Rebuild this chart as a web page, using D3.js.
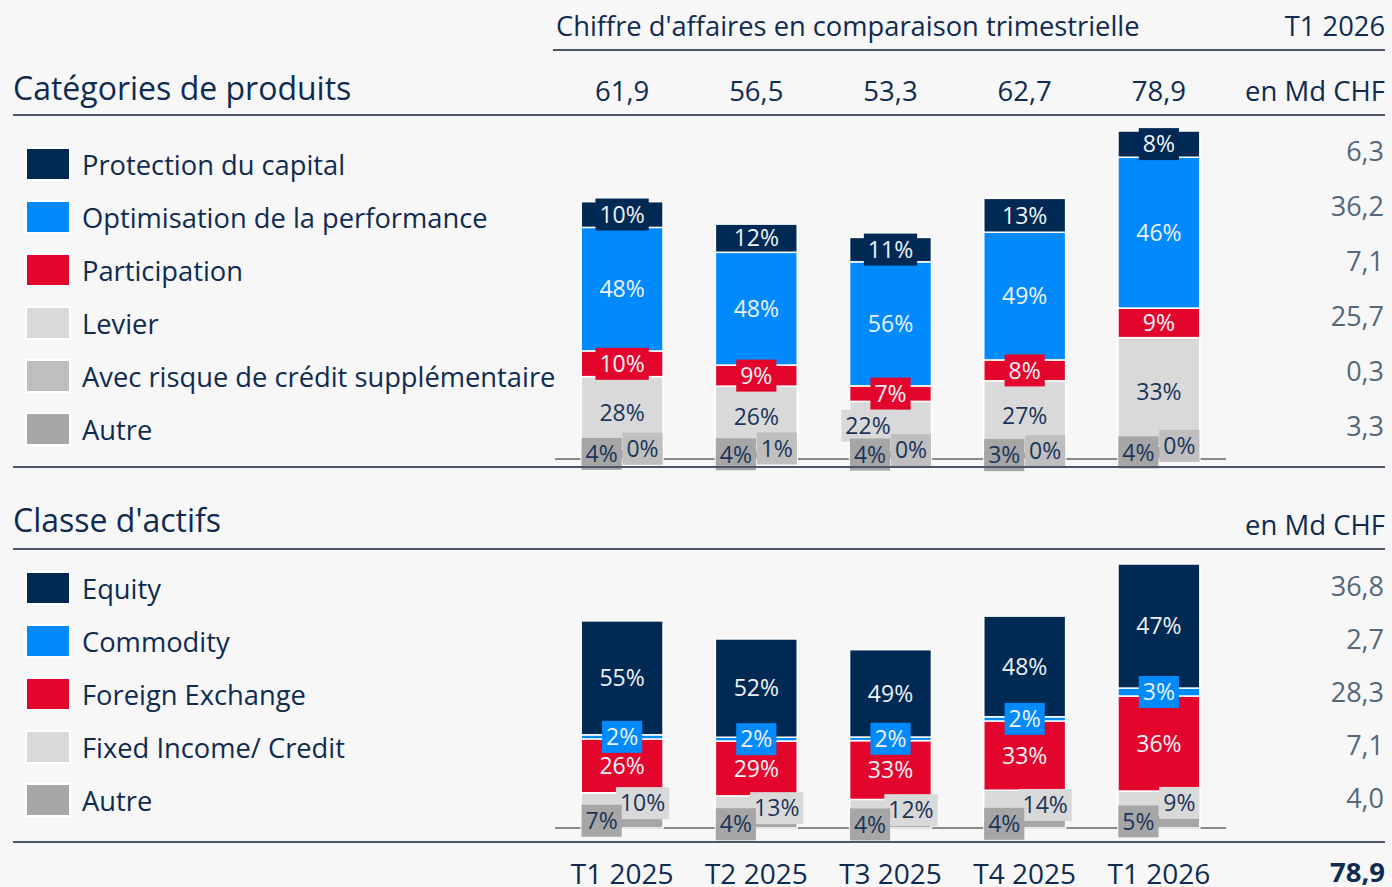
<!DOCTYPE html>
<html>
<head>
<meta charset="utf-8">
<script src="https://cdn.jsdelivr.net/npm/d3@7"></script>
<style>
  body { margin: 0; background: #f7f7f7; }
  svg { display: block; font-family: 'Open Sans', 'Noto Sans', sans-serif; }
</style>
</head>
<body>
<svg id="chart" width="1392" height="887"></svg>
<script>
// quarters and revenue totals (Md CHF)
const quarters = ['T1 2025', 'T2 2025', 'T3 2025', 'T4 2025', 'T1 2026'];
const totals = [61.9, 56.5, 53.3, 62.7, 78.9];

// product categories, shares in % per quarter
const productNames = ['Protection du capital', 'Optimisation de la performance', 'Participation', 'Levier', 'Avec risque de crédit supplémentaire', 'Autre'];
const protectionShare = [10, 12, 11, 13, 8];
const optimisationShare = [48, 48, 56, 49, 46];
const participationShare = [10, 9, 7, 8, 9];
const levierShare = [28, 26, 22, 27, 33];
const creditRiskShare = [0, 1, 0, 0, 0];
const productOtherShare = [4, 4, 4, 3, 4];
const productLatest = [6.3, 36.2, 7.1, 25.7, 0.3, 3.3];

// asset classes, shares in % per quarter
const assetNames = ['Equity', 'Commodity', 'Foreign Exchange', 'Fixed Income/ Credit', 'Autre'];
const equityShare = [55, 52, 49, 48, 47];
const commodityShare = [2, 2, 2, 2, 3];
const fxShare = [26, 29, 33, 33, 36];
const fixedIncomeShare = [10, 13, 12, 14, 9];
const assetOtherShare = [7, 4, 4, 4, 5];
const assetLatest = [36.8, 2.7, 28.3, 7.1, 4.0];

const W = 1392, H = 887;
const textNavy = '#0f2b50';
const ruleColor = '#4b5768';
const lightText = '#eef2f7';
const colNavy = '#002a54', colBlue = '#008afe', colRed = '#e3052c';
const colLight = '#d9d9d9', colMid = '#bfbfbf', colDark = '#a6a6a6';

const fr = d3.formatLocale({ decimal: ',', thousands: ' ', grouping: [3], currency: ['', ''] });
const fmt1 = fr.format('.1f');

const svg = d3.select('#chart');
svg.append('rect').attr('width', W).attr('height', H).attr('fill', '#f7f7f7');

const x = d3.scaleBand()
  .domain(quarters)
  .range([555, 1226])
  .paddingInner(0.39)
  .paddingOuter(0.195);

function rule(y, x1, x2, color, w) {
  svg.append('line')
    .attr('x1', x1).attr('x2', x2)
    .attr('y1', y).attr('y2', y)
    .attr('stroke', color).attr('stroke-width', w);
}

function txt(s, px, py, size, anchor, color, weight) {
  return svg.append('text')
    .attr('x', px).attr('y', py)
    .attr('font-size', size)
    .attr('text-anchor', anchor || 'start')
    .attr('fill', color || textNavy)
    .attr('font-weight', weight || 'normal')
    .text(s);
}

// header
txt("Chiffre d'affaires en comparaison trimestrielle", 556, 36, 27.3);
txt('T1 2026', 1385, 36, 27.3, 'end');
rule(50, 553, 1385, ruleColor, 2);

// totals row
svg.append('g').selectAll('text')
  .data(quarters)
  .join('text')
  .attr('x', d => x(d) + x.bandwidth() / 2)
  .attr('y', 101)
  .attr('text-anchor', 'middle')
  .attr('font-size', 27.5)
  .attr('fill', textNavy)
  .text((d, i) => fmt1(totals[i]));

function drawPanel(p) {
  txt(p.title, 13, p.titleY, 32);
  txt('en Md CHF', 1385, p.unitY, 27.5, 'end');
  rule(p.ruleY, 13, 1385, ruleColor, 2);

  // legend
  const leg = svg.append('g');
  p.names.forEach((n, i) => {
    const cy = p.legendY + i * 53;
    leg.append('rect')
      .attr('x', 26).attr('y', cy - 16)
      .attr('width', 44).attr('height', 32)
      .attr('fill', p.colors[i])
      .attr('stroke', '#fff').attr('stroke-width', 2);
    leg.append('text')
      .attr('x', 82).attr('y', cy + 1).attr('dy', '0.36em')
      .attr('font-size', 27.3).attr('fill', textNavy)
      .text(n);
  });

  // latest quarter values
  p.latest.forEach((v, i) => {
    txt(fmt1(v), 1384, p.valueY + i * p.valueStep, 27, 'end', '#566779');
  });

  // stacked bars (keys bottom first)
  const rows = quarters.map((q, i) => {
    const r = { q: q };
    p.keys.forEach((k, j) => { r[k] = p.shares[j][i] / 100 * totals[i]; });
    return r;
  });
  const series = d3.stack().keys(p.keys)(rows);
  const y = p.y;
  const bw = x.bandwidth();

  rule(y(0), 555, 1226, '#8a8a8a', 2);

  const segs = svg.append('g');
  series.forEach((s, k) => {
    segs.selectAll(null)
      .data(s)
      .join('rect')
      .attr('x', d => x(d.data.q))
      .attr('y', d => y(d[1]))
      .attr('width', bw)
      .attr('height', d => y(d[0]) - y(d[1]))
      .attr('fill', p.keyColors[k])
      .attr('stroke', '#fff')
      .attr('stroke-width', 1.5);
  });

  // labels, drawn top series first so bottom boxes end up on top
  const lab = svg.append('g').attr('font-size', 23);
  quarters.forEach((q, i) => {
    const cx = x(q) + bw / 2;
    const pairTop = Math.min(
      (y(series[0][i][0]) + y(series[0][i][1])) / 2,
      (y(series[1][i][0]) + y(series[1][i][1])) / 2) - 16;
    for (let k = series.length - 1; k >= 0; k--) {
      const d = series[k][i];
      const y0 = y(d[0]), y1 = y(d[1]);
      const h = y0 - y1, cy = (y0 + y1) / 2;
      const share = p.shares[k][i];
      const label = share + '%';
      let lx = cx, box = false;
      if (k < 2) {
        box = true;
        lx = cx + (k === 0 ? -1 : 1) * bw / 4;
      } else if (cy + 16 > pairTop + 4) {
        box = true;
        lx = cx - bw / 4 - 2;
      } else if (h < 27) {
        box = true;
      }
      const t = lab.append('text')
        .attr('x', lx).attr('y', cy).attr('dy', '0.36em')
        .attr('text-anchor', 'middle')
        .attr('fill', p.dark[k] ? lightText : '#1a3559')
        .text(label);
      if (box) {
        const tw = t.node().getComputedTextLength() + 8;
        lab.insert('rect', () => t.node())
          .attr('x', lx - tw / 2).attr('y', cy - 16)
          .attr('width', tw).attr('height', 32)
          .attr('fill', p.keyColors[k]);
      }
    }
  });

  rule(p.bottomRuleY, 13, 1385, ruleColor, 2);
}

drawPanel({
  title: 'Catégories de produits',
  titleY: 100, unitY: 101, ruleY: 115, bottomRuleY: 467,
  legendY: 164, valueY: 161, valueStep: 55,
  names: productNames,
  colors: [colNavy, colBlue, colRed, colLight, colMid, colDark],
  keys: ['autre', 'credit', 'levier', 'participation', 'optimisation', 'protection'],
  keyColors: [colDark, colMid, colLight, colRed, colBlue, colNavy],
  dark: [false, false, false, true, true, true],
  shares: [productOtherShare, creditRiskShare, levierShare, participationShare, optimisationShare, protectionShare],
  latest: productLatest,
  y: d3.scaleLinear().domain([0, 78.9]).range([459, 131])
});

drawPanel({
  title: "Classe d'actifs",
  titleY: 532, unitY: 535, ruleY: 549, bottomRuleY: 842,
  legendY: 588, valueY: 596, valueStep: 53,
  names: assetNames,
  colors: [colNavy, colBlue, colRed, colLight, colDark],
  keys: ['autre', 'fixed', 'fx', 'commodity', 'equity'],
  keyColors: [colDark, colLight, colRed, colBlue, colNavy],
  dark: [false, false, true, true, true],
  shares: [assetOtherShare, fixedIncomeShare, fxShare, commodityShare, equityShare],
  latest: assetLatest,
  y: d3.scaleLinear().domain([0, 78.9]).range([828, 564])
});

// quarter axis
const xAxis = svg.append('g')
  .attr('transform', 'translate(0,884)')
  .call(d3.axisBottom(x).tickSize(0).tickPadding(0));
xAxis.select('.domain').remove();
xAxis.selectAll('text')
  .attr('y', 0).attr('dy', 0)
  .attr('font-size', 28)
  .attr('font-family', "'Open Sans', 'Noto Sans', sans-serif")
  .attr('fill', textNavy);

txt(fmt1(totals[totals.length - 1]), 1385, 882, 27.5, 'end', textNavy, 'bold');
</script>
</body>
</html>
